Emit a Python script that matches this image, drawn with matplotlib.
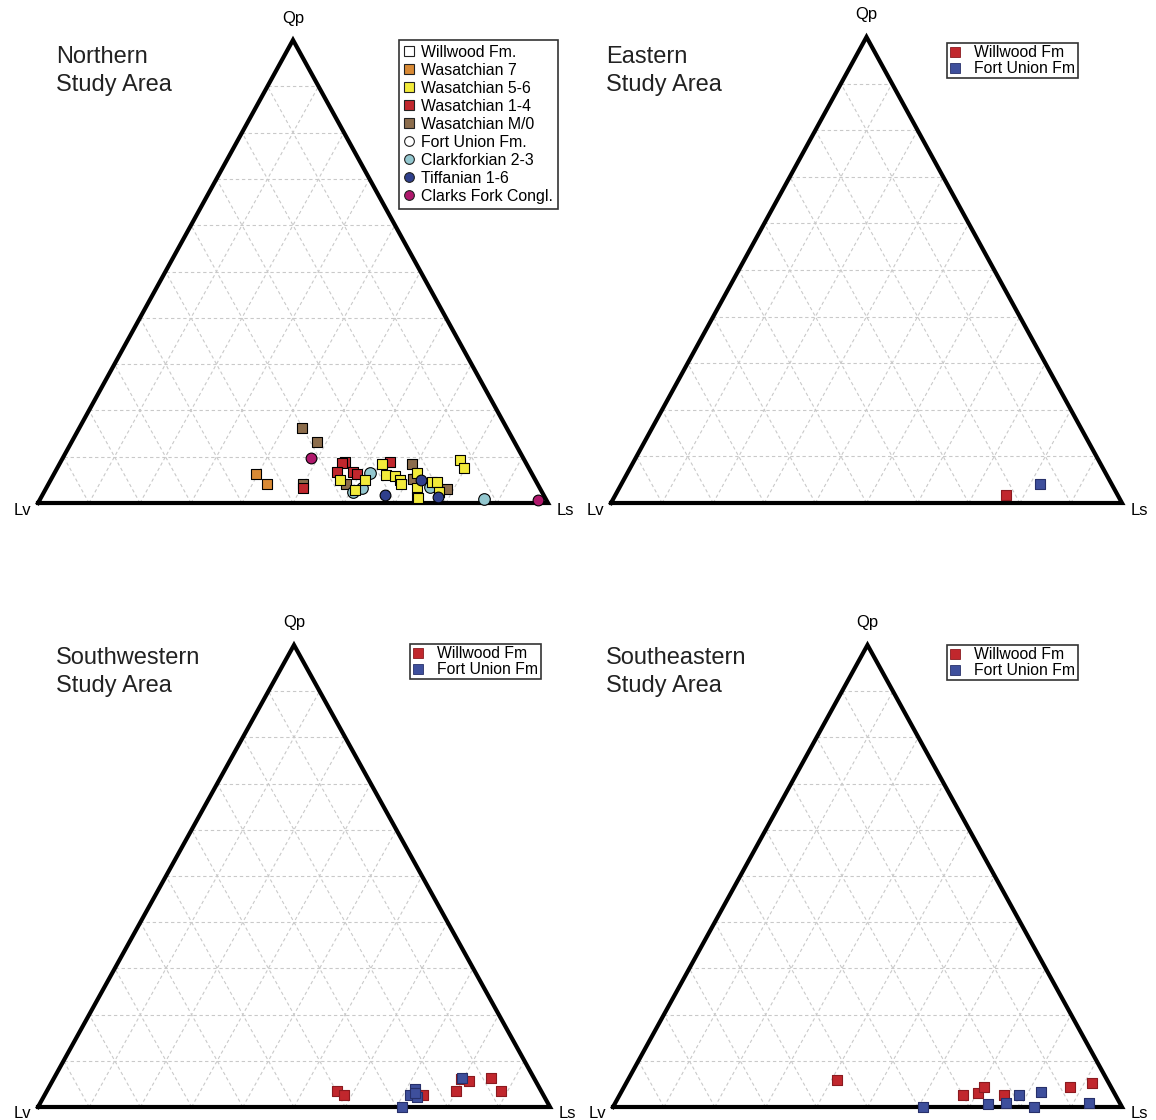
import matplotlib
matplotlib.use("Agg")
import matplotlib.pyplot as plt
from matplotlib.lines import Line2D
import numpy as np

plt.rcParams['font.family'] = ['Liberation Sans', 'DejaVu Sans']

W, H = 1156, 1120

# ---- compositions in percent: (Qp, Ls); Lv = 100 - Qp - Ls ----
# Northern study area
n_w7_qp = [6.3, 4.1]
n_w7_ls = [39.6, 42.8]
n_w56_qp = [8.4, 6.0, 5.9, 5.0, 4.1, 6.4, 3.2, 1.4, 4.5, 4.6, 2.4, 9.3, 7.5, 5.0, 5.0, 2.8, 1.0]
n_w56_ls = [63.2, 65.2, 67.1, 68.5, 69.1, 71.1, 72.7, 73.7, 75.0, 75.9, 77.5, 78.1, 79.7, 56.7, 61.6, 60.8, 74.0]
n_w14_qp = [8.9, 8.6, 6.6, 6.6, 6.3, 8.9, 3.2]
n_w14_ls = [55.7, 55.3, 55.3, 58.4, 59.4, 64.6, 50.3]
n_wm0_qp = [16.1, 13.2, 8.4, 5.2, 3.0, 4.1, 4.1]
n_wm0_ls = [43.8, 48.2, 69.1, 70.9, 78.6, 49.9, 58.3]
n_cf_qp = [6.4, 2.4, 3.2, 3.4, 0.8]
n_cf_ls = [61.8, 60.6, 61.9, 75.2, 87.1]
n_ti_qp = [1.7, 5.0, 1.2]
n_ti_ls = [67.2, 72.6, 77.9]
n_cfc_qp = [9.7, 0.6]
n_cfc_ls = [48.6, 97.8]

# Eastern study area
e_wil_qp = [1.7]
e_wil_ls = [76.4]
e_fu_qp = [4.1]
e_fu_ls = [81.9]

# Southwestern study area
sw_wil_qp = [3.5, 2.7, 2.7, 3.5, 6.0, 5.6, 6.3, 3.5]
sw_wil_ls = [56.7, 58.4, 73.9, 79.9, 79.6, 81.4, 85.3, 88.6]
sw_fu_qp = [6.2, 3.8, 2.7, 2.2, 3.0, 0.0]
sw_fu_ls = [79.7, 71.7, 71.3, 72.9, 72.2, 71.0]

# Southeastern study area
se_wil_qp = [5.8, 2.6, 3.0, 4.4, 2.6, 4.4, 5.1]
se_wil_ls = [41.1, 67.4, 70.3, 70.7, 75.6, 87.6, 91.6]
se_fu_qp = [0.0, 0.6, 0.8, 2.7, 0.0, 3.3, 0.9]
se_fu_ls = [61.0, 73.4, 76.9, 78.4, 82.8, 82.4, 93.1]

titles = ["Northern\nStudy Area", "Eastern\nStudy Area",
          "Southwestern\nStudy Area", "Southeastern\nStudy Area"]
apex_labels = ["Qp", "Lv", "Ls"]

C_ORANGE = "#d98a35"
C_YELLOW = "#f2ea3a"
C_RED = "#c1272d"
C_BROWN = "#8c6d4c"
C_LBLUE = "#93c7cf"
C_DBLUE = "#2f3f8c"
C_MAGENTA = "#b0186c"
C_BLUE2 = "#3e4f9c"

fig = plt.figure(figsize=(W / 100, H / 100), dpi=100)

# triangle extents in pixels: (left vertex x, right vertex x, base y, apex y)
panels = [(38, 548, 503, 40), (611, 1122, 503, 37),
          (38, 550, 1107, 645), (613, 1122, 1107, 645)]
title_pos = [(56, 46), (606, 46), (56, 647), (606, 647)]


def tern_xy(qp, ls):
    qp = np.asarray(qp, float) / 100.0
    ls = np.asarray(ls, float) / 100.0
    return ls + qp / 2.0, qp


axes = []
for (x0, x1, yb, ya), (tx, ty), title in zip(panels, title_pos, titles):
    ax = fig.add_axes([x0 / W, 1 - yb / H, (x1 - x0) / W, (yb - ya) / H])
    ax.set_xlim(0, 1)
    ax.set_ylim(0, 1)
    ax.axis("off")
    # dashed 10 % grid in the three directions
    for i in range(1, 10):
        f = i / 10.0
        for (q0, s0), (q1, s1) in [((f, 0), (f, 1 - f)),
                                   ((0, f), (1 - f, f)),
                                   ((0, 1 - f), (1 - f, 0))]:
            gx, gy = tern_xy([q0 * 100, q1 * 100], [s0 * 100, s1 * 100])
            ax.plot(gx, gy, color="#c9c9c9", lw=0.8, ls=(0, (3, 2.5)), zorder=1)
    ax.plot([0, 1, 0.5, 0], [0, 0, 1, 0], color="black", lw=3.0,
            solid_joinstyle="miter", clip_on=False, zorder=2)
    ax.text(0.5, 1 + 22 / (yb - ya), apex_labels[0], ha="center", va="center",
            fontsize=12, transform=ax.transAxes)
    ax.text(-16 / (x1 - x0), -7 / (yb - ya), apex_labels[1], ha="center", va="center",
            fontsize=12, transform=ax.transAxes)
    ax.text(1 + 17 / (x1 - x0), -7 / (yb - ya), apex_labels[2], ha="center", va="center",
            fontsize=12, transform=ax.transAxes)
    fig.text(tx / W, 1 - ty / H, title, ha="left", va="top", fontsize=17,
             linespacing=1.36, color="#222222")
    axes.append(ax)


def scatter(ax, qp, ls, color, marker="s", edge="black", size=62, z=3):
    x, y = tern_xy(qp, ls)
    ax.scatter(x, y, s=size, marker=marker, c=color, edgecolors=edge,
               linewidths=0.8, clip_on=False, zorder=z)


ax = axes[0]
scatter(ax, n_wm0_qp, n_wm0_ls, C_BROWN)
scatter(ax, n_w14_qp, n_w14_ls, C_RED)
scatter(ax, n_w7_qp, n_w7_ls, C_ORANGE)
scatter(ax, n_cf_qp, n_cf_ls, C_LBLUE, marker="o", size=70)
scatter(ax, n_w56_qp, n_w56_ls, C_YELLOW, z=4)
scatter(ax, n_ti_qp, n_ti_ls, C_DBLUE, marker="o", size=60, z=5)
scatter(ax, n_cfc_qp, n_cfc_ls, C_MAGENTA, marker="o", size=60, z=5)

north_handles = [
    ("Willwood Fm.", "s", "white"),
    ("Wasatchian 7", "s", C_ORANGE),
    ("Wasatchian 5-6", "s", C_YELLOW),
    ("Wasatchian 1-4", "s", C_RED),
    ("Wasatchian M/0", "s", C_BROWN),
    ("Fort Union Fm.", "o", "white"),
    ("Clarkforkian 2-3", "o", C_LBLUE),
    ("Tiffanian 1-6", "o", C_DBLUE),
    ("Clarks Fork Congl.", "o", C_MAGENTA),
]
hs = [Line2D([], [], ls="none", marker=m, markersize=7, markerfacecolor=c,
             markeredgecolor="#222222", markeredgewidth=0.8)
      for _, m, c in north_handles]
leg = fig.legend(hs, [t for t, _, _ in north_handles], loc="upper left",
                 bbox_to_anchor=(399 / W, 1 - 40 / H), fontsize=11.4,
                 frameon=True, fancybox=False, borderaxespad=0,
                 handlelength=0.7, handletextpad=0.4, labelspacing=0.19,
                 borderpad=0.3)
leg.get_frame().set_edgecolor("black")
leg.get_frame().set_linewidth(1.2)

two_sets = [(e_wil_qp, e_wil_ls, e_fu_qp, e_fu_ls),
            (sw_wil_qp, sw_wil_ls, sw_fu_qp, sw_fu_ls),
            (se_wil_qp, se_wil_ls, se_fu_qp, se_fu_ls)]
legend_pos = [(947, 43), (410, 644), (947, 645)]
for ax, (wq, wl, fq, fl), (lx, ly) in zip(axes[1:], two_sets, legend_pos):
    scatter(ax, wq, wl, C_RED, edge="#8a1a1f", size=60)
    scatter(ax, fq, fl, C_BLUE2, edge="#27306a", size=60)
    hs = [Line2D([], [], ls="none", marker="s", markersize=7, markerfacecolor=C_RED,
                 markeredgecolor="#8a1a1f", markeredgewidth=0.6),
          Line2D([], [], ls="none", marker="s", markersize=7, markerfacecolor=C_BLUE2,
                 markeredgecolor="#27306a", markeredgewidth=0.6)]
    lg = fig.legend(hs, ["Willwood Fm", "Fort Union Fm"], loc="upper left",
                    bbox_to_anchor=(lx / W, 1 - ly / H), fontsize=11.3,
                    frameon=True, fancybox=False, borderaxespad=0,
                    handlelength=0.7, handletextpad=0.9, labelspacing=0.05,
                    borderpad=0.15)
    lg.get_frame().set_edgecolor("black")
    lg.get_frame().set_linewidth(1.2)

fig.savefig("out.png", dpi=100)
